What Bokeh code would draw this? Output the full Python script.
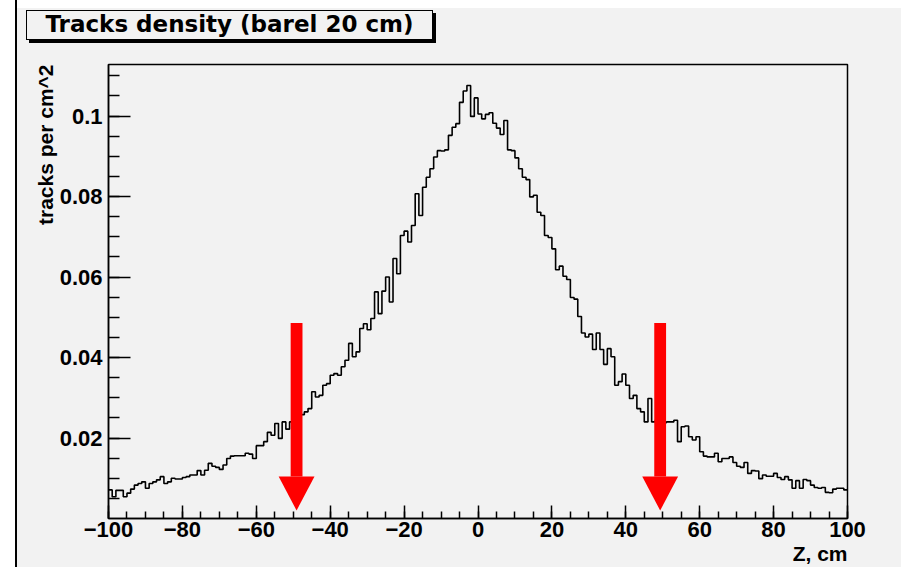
from bokeh.plotting import figure
from bokeh.layouts import row, column
from bokeh.models import Range1d, SingleIntervalTicker, FixedTicker, Div, Title
from bokeh.embed import file_html
from bokeh.resources import INLINE

# ---------------- data ----------------
z_start = -100          # first bin edge, cm
z_bin_width = 1         # cm
# tracks per cm^2, one value per 1 cm bin from Z=-100 to Z=+100
density = [
    # -100 .. -51
    0.0071, 0.0054, 0.0070, 0.0070, 0.0054, 0.0063, 0.0073, 0.0083, 0.0087, 0.0091,
    0.0075, 0.0087, 0.0091, 0.0096, 0.0104, 0.0087, 0.0091, 0.0100, 0.0098, 0.0098,
    0.0102, 0.0104, 0.0108, 0.0108, 0.0119, 0.0108, 0.0120, 0.0137, 0.0130, 0.0127,
    0.0122, 0.0133, 0.0149, 0.0155, 0.0156, 0.0156, 0.0156, 0.0162, 0.0160, 0.0149,
    0.0181, 0.0181, 0.0191, 0.0214, 0.0207, 0.0236, 0.0199, 0.0240, 0.0222, 0.0240,
    # -50 .. -1
    0.0245, 0.0250, 0.0258, 0.0265, 0.0273, 0.0315, 0.0302, 0.0306, 0.0331, 0.0335,
    0.0356, 0.0360, 0.0356, 0.0377, 0.0393, 0.0435, 0.0402, 0.0414, 0.0472, 0.0484,
    0.0469, 0.0497, 0.0563, 0.0509, 0.0565, 0.0600, 0.0538, 0.0646, 0.0608, 0.0703,
    0.0714, 0.0687, 0.0728, 0.0807, 0.0753, 0.0823, 0.0848, 0.0869, 0.0898, 0.0914,
    0.0913, 0.0916, 0.0952, 0.0972, 0.0981, 0.1034, 0.1062, 0.1076, 0.0999, 0.1045,
    # 0 .. 49
    0.1005, 0.0993, 0.1004, 0.1008, 0.0982, 0.0970, 0.0954, 0.0989, 0.0916, 0.0914,
    0.0896, 0.0869, 0.0848, 0.0842, 0.0799, 0.0803, 0.0761, 0.0753, 0.0703, 0.0698,
    0.0670, 0.0618, 0.0627, 0.0602, 0.0594, 0.0549, 0.0545, 0.0502, 0.0461, 0.0451,
    0.0458, 0.0420, 0.0461, 0.0420, 0.0383, 0.0422, 0.0402, 0.0331, 0.0340, 0.0359,
    0.0331, 0.0298, 0.0306, 0.0273, 0.0265, 0.0240, 0.0298, 0.0240, 0.0245, 0.0240,
    # 50 .. 99
    0.0238, 0.0240, 0.0240, 0.0244, 0.0191, 0.0228, 0.0230, 0.0203, 0.0195, 0.0203,
    0.0166, 0.0155, 0.0153, 0.0153, 0.0162, 0.0141, 0.0149, 0.0149, 0.0153, 0.0139,
    0.0130, 0.0127, 0.0139, 0.0112, 0.0119, 0.0118, 0.0099, 0.0108, 0.0105, 0.0105,
    0.0112, 0.0102, 0.0097, 0.0104, 0.0096, 0.0075, 0.0094, 0.0075, 0.0097, 0.0094,
    0.0083, 0.0077, 0.0075, 0.0077, 0.0065, 0.0064, 0.0073, 0.0075, 0.0075, 0.0071,
]
y_tick_values = [0.02, 0.04, 0.06, 0.08, 0.1]
y_tick_labels = ["0.02", "0.04", "0.06", "0.08", "0.1"]
arrow_z = [-49.1, 49.3]     # positions of the red markers (cm)

title_text = "Tracks density (barel 20 cm)"
x_label = "Z, cm"
y_label = "tracks per cm^2"

# ---------------- layout ----------------
PAGE_W, PAGE_H = 901, 567
LEFT_WHITE, LEFT_LINE = 15, 2
TOP_WHITE, TITLE_H = 8, 36
W = PAGE_W - LEFT_WHITE - LEFT_LINE          # figure width
H = PAGE_H - TOP_WHITE - TITLE_H             # figure height
OX, OY = LEFT_WHITE + LEFT_LINE, TOP_WHITE + TITLE_H   # figure origin on page
FL, FR, FT, FB = 108, 847, 64, 518           # frame edges on the page (px)
X0, X1 = -100, 100
Y0, Y1 = 0.0, 0.1128
BG = "#f2f2f2"
FONT = "Liberation Sans"

p = figure(width=W, height=H, x_range=Range1d(X0, X1), y_range=Range1d(Y0, Y1),
           output_backend="svg", toolbar_location=None, margin=0,
           min_border_left=FL - OX, min_border_right=W - (FR - OX),
           min_border_top=FT - OY, min_border_bottom=PAGE_H - FB)
p.background_fill_color = BG
p.border_fill_color = BG
p.outline_line_color = "black"
p.outline_line_width = 1.5
p.xgrid.visible = False
p.ygrid.visible = False

# axes
p.xaxis.ticker = SingleIntervalTicker(interval=20, num_minor_ticks=4)
p.yaxis.ticker = FixedTicker(ticks=y_tick_values,
                             minor_ticks=[round(0.005 * i, 3) for i in range(1, 23)])
p.yaxis.major_label_overrides = dict(zip(y_tick_values, y_tick_labels))
for ax in (p.xaxis, p.yaxis):
    ax.axis_line_color = "black"
    ax.axis_line_width = 1.5
    ax.major_tick_line_color = "black"
    ax.minor_tick_line_color = "black"
    ax.major_tick_line_width = 1.5
    ax.minor_tick_line_width = 1.5
    ax.major_tick_out = 0
    ax.minor_tick_out = 0
    ax.major_label_text_font = FONT
    ax.major_label_text_font_style = "bold"
    ax.major_label_text_font_size = "22px"
    ax.major_label_text_color = "black"
p.xaxis.major_tick_in = 13
p.xaxis.minor_tick_in = 7
p.xaxis.major_label_standoff = 3
p.yaxis.major_tick_in = 22
p.yaxis.minor_tick_in = 11
p.yaxis.major_label_standoff = 6

# axis titles, aligned at the far end of each axis (ROOT style)
p.add_layout(Title(text=x_label, align="right", standoff=0, text_font=FONT,
                   text_font_style="bold", text_font_size="21px", text_color="black"),
             "below")
p.add_layout(Title(text=y_label, align="right", standoff=0, text_font=FONT,
                   text_font_style="bold", text_font_size="21px", text_color="black"),
             "left")

# histogram outline
edges = [z_start + i * z_bin_width for i in range(len(density) + 1)]
p.step(x=edges, y=density + [density[-1]], mode="after",
       line_color="black", line_width=1.6)

# red arrows (in data units)
sy = (FB - FT) / (Y1 - Y0)
def vy(py):
    return Y0 + (FB - py) / sy
shaft_half = 1.6
head_half = 4.85
shaft_top = vy(322.5)
head_base = vy(476)
head_tip = vy(510)
p.quad(left=[a - shaft_half for a in arrow_z], right=[a + shaft_half for a in arrow_z],
       bottom=head_base, top=shaft_top, fill_color="#ff0000", line_color=None)
p.patches(xs=[[a - head_half, a + head_half, a] for a in arrow_z],
          ys=[[head_base, head_base, head_tip] for a in arrow_z],
          fill_color="#ff0000", line_color=None)

# page pieces: white margins, black line, title box
left_white = Div(width=LEFT_WHITE, height=PAGE_H, margin=0,
                 styles={"background-color": "white"})
left_line = Div(width=LEFT_LINE, height=PAGE_H, margin=0,
                styles={"background-color": "black"})
top_white = Div(width=W, height=TOP_WHITE, margin=0,
                styles={"background-color": "white"})
title_html = (
    '<div style="position:relative; left:9px; top:2px; box-sizing:border-box; '
    'width:407px; height:30px; border:1.5px solid #000; box-shadow:3px 3px 0 #000; '
    'background:%s; color:#000; font-family:\'DejaVu Sans\'; font-weight:bold; '
    'font-size:23px; line-height:27px; text-align:center; white-space:nowrap;">%s</div>'
    % (BG, title_text))
title_div = Div(text=title_html, width=W, height=TITLE_H, margin=0,
                styles={"background-color": BG})

layout = row(left_white, left_line,
             column(top_white, title_div, p, spacing=0, margin=0),
             spacing=0, margin=0)
layout.styles = {"background-color": BG}

open("out.html", "w").write(file_html(layout, INLINE))
